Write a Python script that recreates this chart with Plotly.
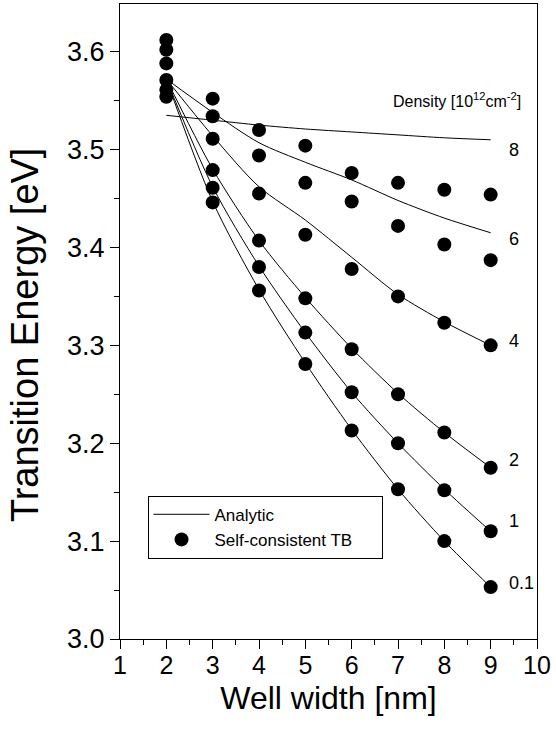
import plotly.graph_objects as go

# ---------------- data ----------------
well_width = [2, 3, 4, 5, 6, 7, 8, 9]
densities = ["8", "6", "4", "2", "1", "0.1"]

# Analytic curves (transition energy, eV)
analytic = {
    "8":   [3.535, 3.530, 3.525, 3.521, 3.518, 3.515, 3.512, 3.510],
    "6":   [3.572, 3.538, 3.507, 3.487, 3.469, 3.448, 3.430, 3.415],
    "4":   [3.572, 3.514, 3.462, 3.428, 3.390, 3.352, 3.324, 3.300],
    "2":   [3.572, 3.480, 3.407, 3.349, 3.297, 3.251, 3.211, 3.175],
    "1":   [3.572, 3.462, 3.381, 3.313, 3.252, 3.200, 3.153, 3.110],
    "0.1": [3.572, 3.447, 3.357, 3.282, 3.214, 3.153, 3.100, 3.053],
}

# Self-consistent TB results (eV)
tb = {
    "8":   [3.612, 3.552, 3.520, 3.504, 3.476, 3.466, 3.459, 3.454],
    "6":   [3.602, 3.534, 3.494, 3.466, 3.447, 3.422, 3.403, 3.387],
    "4":   [3.588, 3.511, 3.455, 3.413, 3.378, 3.350, 3.323, 3.300],
    "2":   [3.571, 3.479, 3.407, 3.348, 3.296, 3.250, 3.211, 3.175],
    "1":   [3.561, 3.461, 3.380, 3.313, 3.252, 3.200, 3.152, 3.110],
    "0.1": [3.554, 3.446, 3.356, 3.281, 3.213, 3.153, 3.100, 3.053],
}

x_ticks = [1, 2, 3, 4, 5, 6, 7, 8, 9, 10]
y_ticks = [3.0, 3.1, 3.2, 3.3, 3.4, 3.5, 3.6]

# label pixel offsets (style)
label_yshift = {"8": -10, "6": -6, "4": 4, "2": 8, "1": 10, "0.1": 4}

FONT = "Liberation Sans, Arial, Helvetica, sans-serif"
PAD = "\u00a0" * 5

fig = go.Figure()

for i, d in enumerate(densities):
    fig.add_trace(go.Scatter(
        x=well_width, y=analytic[d], mode="lines",
        line=dict(color="black", width=1, shape="spline", smoothing=0.8),
        name="Analytic", legendgroup="analytic", showlegend=(i == 0),
    ))

for i, d in enumerate(densities):
    fig.add_trace(go.Scatter(
        x=well_width, y=tb[d], mode="markers",
        marker=dict(color="black", size=14, line=dict(width=0)),
        name="Self-consistent TB" + PAD, legendgroup="tb", showlegend=(i == 0),
    ))

for d in densities:
    fig.add_annotation(
        x=well_width[-1], y=analytic[d][-1], text=d, showarrow=False,
        xanchor="left", yanchor="middle", xshift=16, yshift=label_yshift[d],
        font=dict(family=FONT, size=18, color="black"),
    )

fig.add_annotation(
    x=9.7, y=3.551, xref="x", yref="y",
    text="Density [10<sup>12</sup>cm<sup>-2</sup>]", showarrow=False,
    xanchor="right", yanchor="middle",
    font=dict(family=FONT, size=16, color="black"),
)

# y-axis title as a rotated annotation for exact placement
fig.add_annotation(
    x=-0.228, y=0.48, xref="paper", yref="paper",
    text="Transition Energy [eV]", showarrow=False, textangle=-90,
    xanchor="center", yanchor="middle",
    font=dict(family=FONT, size=38, color="black"),
)

axis_common = dict(
    showline=True, linecolor="black", linewidth=1.3, mirror=True,
    ticks="outside", ticklen=9, tickwidth=1.2, tickcolor="black",
    showgrid=False, zeroline=False,
)

fig.update_xaxes(
    range=[1, 10], tickvals=x_ticks, ticktext=[str(v) for v in x_ticks],
    tickfont=dict(family=FONT, size=25, color="black"),
    ticklabelstandoff=-5,
    minor=dict(dtick=0.5, ticks="outside", ticklen=5, tickcolor="black", tickwidth=1),
    title=dict(text="Well width [nm]", font=dict(family=FONT, size=32, color="black"), standoff=8),
    **axis_common,
)
fig.update_yaxes(
    range=[3.0, 3.6487], tickvals=y_ticks, ticktext=[f"{v:.1f}" for v in y_ticks],
    tickfont=dict(family=FONT, size=27, color="black"),
    minor=dict(dtick=0.05, ticks="outside", ticklen=5, tickcolor="black", tickwidth=1),
    **axis_common,
)

fig.update_layout(
    width=556, height=732,
    margin=dict(l=120, r=19, t=4, b=93, autoexpand=False),
    paper_bgcolor="white", plot_bgcolor="white",
    showlegend=True,
    legend=dict(
        x=0.066, y=0.2256, xanchor="left", yanchor="top",
        bordercolor="black", borderwidth=1, bgcolor="white",
        font=dict(family=FONT, size=17, color="black"),
        itemwidth=56, tracegroupgap=0,
    ),
)

fig.write_html(
    "out.html",
    config={"displayModeBar": False},
    post_script="document.body.style.margin='0';document.body.style.padding='0';",
)
